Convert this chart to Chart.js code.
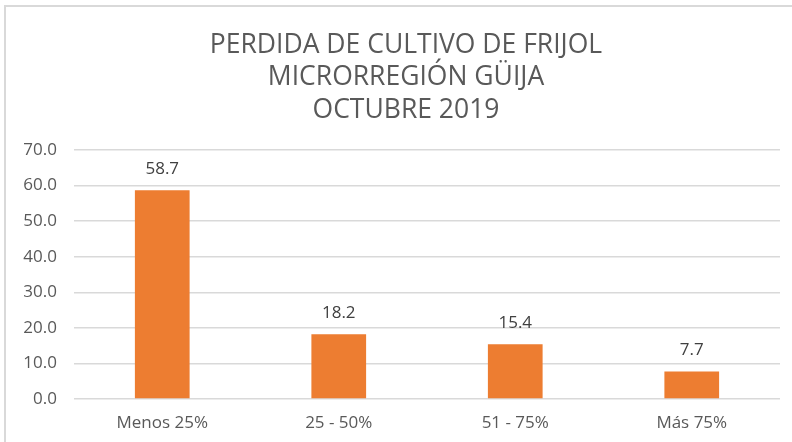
<!DOCTYPE html>
<html>
<head>
<meta charset="utf-8">
<script src="https://cdn.jsdelivr.net/npm/chart.js@4"></script>
<style>
  html, body { margin: 0; padding: 0; background: #fff; }
  #wrap { position: relative; width: 792px; height: 442px; overflow: hidden; }
  #frame { position: absolute; left: 4px; top: 5px; width: 800px; height: 450px;
           border-left: 2px solid #d9d9d9; border-top: 2px solid #d9d9d9; box-sizing: border-box; }
  canvas { position: absolute; left: 0; top: 0; }
</style>
</head>
<body>
<div id="wrap">
  <div id="frame"></div>
  <canvas id="perdidaChart" width="792" height="442"></canvas>
</div>
<script>
// Datos del gráfico
const categorias = ['Menos 25%', '25 - 50%', '51 - 75%', 'Más 75%'];
const perdida = [58.7, 18.2, 15.4, 7.7];
const tituloLineas = ['PERDIDA DE CULTIVO DE FRIJOL', 'MICRORREGIÓN GÜIJA', 'OCTUBRE 2019'];
const ejeY = { min: 0, max: 70, paso: 10 };

const GRIS_TEXTO = '#595959';
const NARANJA = '#ED7D31';
const FUENTE = "'Open Sans', sans-serif";

// Título de tres líneas (centrado como en el original, algo a la derecha)
const tituloPlugin = {
  id: 'tituloPlugin',
  afterDraw(chart) {
    const ctx = chart.ctx;
    ctx.save();
    ctx.font = '26.5px ' + FUENTE;
    ctx.fillStyle = GRIS_TEXTO;
    ctx.textAlign = 'center';
    ctx.textBaseline = 'middle';
    tituloLineas.forEach((linea, i) => {
      ctx.fillText(linea, 406, 45 + i * 32.5);
    });
    ctx.restore();
  }
};

// Etiquetas de valor encima de cada barra
const etiquetasValor = {
  id: 'etiquetasValor',
  afterDatasetsDraw(chart) {
    const ctx = chart.ctx;
    const meta = chart.getDatasetMeta(0);
    ctx.save();
    ctx.font = '17px ' + FUENTE;
    ctx.fillStyle = '#404040';
    ctx.textAlign = 'center';
    ctx.textBaseline = 'middle';
    meta.data.forEach((bar, i) => {
      ctx.fillText(perdida[i].toFixed(1), bar.x, bar.y - 21);
    });
    ctx.restore();
  }
};

const ctx = document.getElementById('perdidaChart').getContext('2d');
new Chart(ctx, {
  type: 'bar',
  data: {
    labels: categorias,
    datasets: [{
      data: perdida,
      backgroundColor: NARANJA,
      barPercentage: 0.31,
      categoryPercentage: 1
    }]
  },
  options: {
    responsive: false,
    animation: false,
    layout: { padding: { left: 0, right: 12, top: 150, bottom: 0 } },
    plugins: {
      legend: { display: false },
      tooltip: { enabled: false },
      title: { display: false }
    },
    scales: {
      y: {
        min: ejeY.min,
        max: ejeY.max,
        ticks: {
          stepSize: ejeY.paso,
          color: GRIS_TEXTO,
          font: { family: FUENTE, size: 17 },
          padding: 17,
          callback: v => v.toFixed(1)
        },
        grid: { color: '#d9d9d9', lineWidth: 1.5, drawTicks: false },
        border: { display: false },
        afterFit(scale) { scale.width = 74; }
      },
      x: {
        ticks: { color: GRIS_TEXTO, font: { family: FUENTE, size: 17 }, padding: 14 },
        grid: { display: false, drawTicks: false },
        border: { display: false },
        afterFit(scale) { scale.height = 43; }
      }
    }
  },
  plugins: [tituloPlugin, etiquetasValor]
});
</script>
</body>
</html>
